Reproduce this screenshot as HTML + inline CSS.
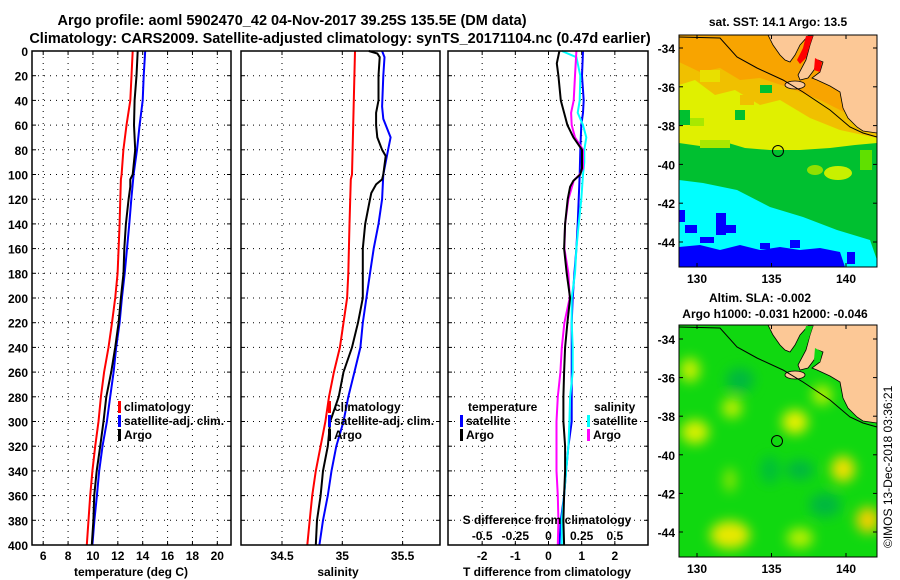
<!DOCTYPE html>
<html><head><meta charset="utf-8"><style>
body{margin:0;background:#fff}
svg{display:block;font-family:"Liberation Sans",sans-serif;font-weight:bold}
</style></head><body>
<svg id="fig" width="900" height="580" viewBox="0 0 900 580" xmlns="http://www.w3.org/2000/svg">
<defs>
<filter id="blur" x="-50%" y="-50%" width="200%" height="200%"><feGaussianBlur stdDeviation="6"/></filter>
<clipPath id="m1clip"><rect x="679" y="35" width="198" height="232"/></clipPath>
<clipPath id="m2clip"><rect x="679" y="325" width="198" height="232"/></clipPath>
</defs>
<text x="292" y="25" font-size="14.5" text-anchor="middle">Argo profile: aoml 5902470_42 04-Nov-2017 39.25S 135.5E (DM data)</text>
<text x="340" y="43" font-size="14.5" text-anchor="middle">Climatology: CARS2009. Satellite-adjusted climatology: synTS_20171104.nc (0.47d earlier)</text>
<g id="panels"></g>

<!-- Map 1: SST -->
<g>
<text x="778" y="26" font-size="12" text-anchor="middle">sat. SST: 14.1 Argo: 13.5</text>
<g clip-path="url(#m1clip)">
<rect x="679" y="35" width="198" height="232" fill="#f8a400"/>
<polygon points="679,62 700,72 720,68 740,80 760,78 790,88 820,100 850,115 877,130 877,267 679,267" fill="#f0c000"/>
<polygon points="679,85 695,80 715,95 735,90 760,105 780,100 810,118 840,130 877,138 877,267 679,267" fill="#e0f000"/>
<rect x="700" y="70" width="20" height="12" fill="#e8e000"/>
<rect x="740" y="95" width="14" height="10" fill="#f0c000"/>
<rect x="760" y="85" width="12" height="8" fill="#00c030"/>
<rect x="735" y="110" width="10" height="10" fill="#00c030"/>
<rect x="690" y="118" width="14" height="8" fill="#a8e800"/>
<polygon points="679,110 690,110 690,125 679,125" fill="#00c030"/>
<polygon points="679,143 700,146 725,142 745,148 770,150 800,150 830,148 855,145 877,143 877,267 679,267" fill="#00c030"/>
<rect x="700" y="140" width="30" height="8" fill="#a8e800"/>
<ellipse cx="838" cy="173" rx="14" ry="7" fill="#c8f000"/>
<ellipse cx="815" cy="170" rx="8" ry="5" fill="#90e000"/>
<rect x="860" y="150" width="12" height="20" fill="#60e000"/>
<polygon points="679,180 703,183 737,190 770,207 803,217 837,230 870,240 877,260 877,267 679,267" fill="#00ffff"/>
<polygon points="679,247 700,245 720,250 740,245 760,250 780,247 800,250 820,248 840,252 845,267 679,267" fill="#0000ff"/>
<rect x="679" y="210" width="6" height="12" fill="#0000ff"/>
<rect x="685" y="225" width="12" height="8" fill="#0000ff"/>
<rect x="716" y="213" width="10" height="22" fill="#0000ff"/>
<rect x="726" y="225" width="10" height="8" fill="#0000ff"/>
<rect x="700" y="237" width="14" height="6" fill="#0000ff"/>
<rect x="760" y="243" width="10" height="6" fill="#0000ff"/>
<rect x="790" y="240" width="10" height="8" fill="#0000ff"/>
<rect x="847" y="252" width="8" height="12" fill="#0000ff"/>
<g id="land1">
<polygon points="768,35 877,35 877,133 863,131 857,127 848,118 843,108 840,92 830,86 817,80 812,78 820,72 823,62 818,60 814,70 808,78 800,80 798,75 806,60 810,45 813,36 808,36 800,45 795,55 790,62 785,60 780,55 773,45" fill="#fcc896" stroke="#000" stroke-width="0.8"/>
<polygon points="806,36 813,36 810,45 806,58 800,64 797,60 803,48" fill="#ff0000"/>
<polygon points="815,58 822,62 820,72 814,70" fill="#ff0000"/>
<ellipse cx="795" cy="85" rx="10" ry="4" fill="#fcc896" stroke="#000" stroke-width="0.8"/>
</g>
<polyline points="679,37 720,38 737,57 757,68 783,80 803,92 830,110 850,127 863,133 877,137" fill="none" stroke="#000" stroke-width="1"/>
</g>
<rect x="679" y="35" width="198" height="232" fill="none" stroke="#000"/>
<circle cx="778" cy="151" r="5.5" fill="none" stroke="#000"/>
</g>

<!-- Map 2: SLA -->
<g>
<text x="760" y="302" font-size="12" text-anchor="middle">Altim. SLA: -0.002</text>
<text x="775" y="318" font-size="12" text-anchor="middle">Argo h1000: -0.031 h2000: -0.046</text>
<g clip-path="url(#m2clip)">
<rect x="679" y="325" width="198" height="232" fill="#10d810"/>
<g filter="url(#blur)">
<ellipse cx="740" cy="380" rx="14" ry="12" fill="#00b840"/>
<ellipse cx="800" cy="470" rx="14" ry="10" fill="#00b840"/>
<ellipse cx="825" cy="505" rx="16" ry="12" fill="#00b840"/>
<ellipse cx="770" cy="470" rx="10" ry="14" fill="#00c038"/>
<ellipse cx="690" cy="370" rx="10" ry="12" fill="#c8f000"/>
<ellipse cx="695" cy="432" rx="14" ry="12" fill="#d8f000"/>
<ellipse cx="732" cy="408" rx="10" ry="10" fill="#c0f000"/>
<ellipse cx="795" cy="422" rx="13" ry="12" fill="#e8f000"/>
<ellipse cx="843" cy="469" rx="12" ry="13" fill="#f0e000"/>
<ellipse cx="868" cy="520" rx="12" ry="13" fill="#f0d000"/>
<ellipse cx="730" cy="535" rx="20" ry="14" fill="#e8e800"/>
<ellipse cx="800" cy="538" rx="13" ry="10" fill="#b8f000"/>
<ellipse cx="822" cy="395" rx="10" ry="10" fill="#b8f000"/>
<ellipse cx="730" cy="480" rx="6" ry="12" fill="#90e800"/>
</g>
<g transform="translate(0,290)">
<polygon points="768,35 877,35 877,133 863,131 857,127 848,118 843,108 840,92 830,86 817,80 812,78 820,72 823,62 818,60 814,70 808,78 800,80 798,75 806,60 810,45 813,36 808,36 800,45 795,55 790,62 785,60 780,55 773,45" fill="#fcc896" stroke="#000" stroke-width="0.8"/>
<polygon points="806,36 813,36 810,45 806,58 800,64 797,60 803,48" fill="#10d810"/>
<polygon points="815,58 822,62 820,72 814,70" fill="#10d810"/>
<ellipse cx="795" cy="85" rx="10" ry="4" fill="#fcc896" stroke="#000" stroke-width="0.8"/>
<polyline points="679,37 720,38 737,57 757,68 783,80 803,92 830,110 850,127 863,133 877,137" fill="none" stroke="#000" stroke-width="1"/>
</g>
</g>
<rect x="679" y="325" width="198" height="232" fill="none" stroke="#000"/>
<circle cx="777" cy="441" r="5.5" fill="none" stroke="#000"/>
</g>
<text transform="translate(892,548) rotate(-90)" font-size="12" font-weight="normal">©IMOS 13-Dec-2018 03:36:21</text>
<g id="mapaxes"></g>
</svg>
<script>
// ---- data ----
const tempDepthsClim = [0,40,60,80,100,104,120,140,160,180,200,220,240,260,280,300,320,340,360,380,400];
const tempClim = [13.2,13.0,12.7,12.45,12.3,12.25,12.2,12.14,12.06,11.98,11.79,11.53,11.25,10.9,10.64,10.45,10.18,9.96,9.78,9.64,9.51];
const tempDepthsArgo = [0,20,40,60,80,100,104,110,120,140,160,180,200,220,240,260,280,300,320,340,360,380,400];
const tempArgo = [13.6,13.5,13.35,13.3,13.4,13.2,13.0,13.0,12.87,12.65,12.52,12.46,12.25,12.06,11.79,11.47,11.07,10.85,10.58,10.3,10.1,10.04,9.91];
const tempDepthsSat = [0,20,40,60,80,100,120,140,160,180,200,220,240,260,280,300,320,340,360,380,400];
const tempSat = [14.2,14.08,14.0,13.75,13.54,13.27,13.08,12.92,12.74,12.55,12.33,12.14,11.87,11.66,11.39,11.12,10.77,10.5,10.32,10.12,9.96];

const salDepthsClim = [0,100,104,140,180,200,220,240,260,280,300,320,340,360,380,400];
const salClim = [35.105,35.08,35.07,35.06,35.05,35.04,35.01,34.98,34.93,34.89,34.86,34.82,34.78,34.75,34.73,34.71];
const salDepthsArgo = [0,2,5,20,40,50,60,70,80,85,100,104,108,115,120,140,160,180,200,210,220,240,260,280,300,320,340,360,380,400];
const salArgo = [35.22,35.29,35.31,35.30,35.30,35.28,35.28,35.29,35.33,35.36,35.34,35.33,35.28,35.24,35.23,35.19,35.17,35.17,35.17,35.15,35.13,35.08,35.01,34.97,34.90,34.88,34.84,34.82,34.79,34.78];
const salDepthsSat = [0,5,20,45,55,70,80,100,120,140,160,180,200,220,240,260,280,300,320,340,360,380,400];
const salSat = [35.33,35.35,35.34,35.33,35.34,35.40,35.38,35.34,35.33,35.30,35.26,35.23,35.20,35.17,35.15,35.10,35.05,35.01,34.95,34.91,34.88,34.84,34.81];

const dTDepthsSat = [0,20,40,50,60,80,100,120,140,160,180,200,220,240,260,280,300,320,340,360,380,400];
const dTSat = [1.04,1.01,1.06,1.04,0.99,0.96,0.94,0.91,0.88,0.84,0.78,0.73,0.70,0.70,0.70,0.70,0.70,0.60,0.53,0.47,0.37,0.33];
const dTDepthsArgo = [0,10,20,40,50,60,70,80,95,100,105,110,120,140,160,180,200,220,240,260,280,300,320,340,360,380,400];
const dTArgo = [0.33,0.25,0.30,0.37,0.47,0.57,0.75,1.01,1.01,0.96,0.75,0.65,0.58,0.50,0.47,0.55,0.65,0.57,0.50,0.47,0.45,0.45,0.50,0.50,0.47,0.45,0.47];
const dSDepthsSat = [0,5,20,40,50,60,70,80,90,100,120,140,160,180,200,220,240,260,280,300,320,340,360,380,400];
const dSSat = [0.10,0.21,0.24,0.235,0.22,0.26,0.285,0.27,0.27,0.26,0.2475,0.2275,0.21,0.20,0.175,0.175,0.1825,0.1825,0.1625,0.1575,0.15,0.1325,0.1175,0.10,0.10];
const dSDepthsArgo = [0,20,40,50,60,70,80,95,100,105,120,140,160,180,200,220,240,260,280,300,320,340,360,380,400];
const dSArgo = [0.21,0.20,0.19,0.17,0.175,0.20,0.26,0.26,0.235,0.19,0.15,0.125,0.12,0.15,0.16,0.12,0.10,0.09,0.07,0.06,0.06,0.06,0.07,0.075,0.07];

const depthTicks = [0,20,40,60,80,100,120,140,160,180,200,220,240,260,280,300,320,340,360,380,400];
const tempTicks = [6,8,10,12,14,16,18,20];
const salTicks = [34.5,35,35.5];
const salTickLabels = ['34.5','35','35.5'];
const dTTicks = [-2,-1,0,1,2];
const dSTicks = [-0.5,-0.25,0,0.25,0.5];
const dSTickLabels = ['-0.5','-0.25','0','0.25','0.5'];
const latTicks = [-34,-36,-38,-40,-42,-44];
const lonTicks = [130,135,140];

// ---- helpers ----
const NS='http://www.w3.org/2000/svg';
const root=document.getElementById('panels');
function mk(tag,attrs,parent){const e=document.createElementNS(NS,tag);for(const k in attrs)e.setAttribute(k,attrs[k]);(parent||root).appendChild(e);return e;}
const Y0=51,Y1=545;
function yD(d){return Y0+d*(Y1-Y0)/400;}
function lin(d0,d1,r0,r1){return v=>r0+(v-d0)*(r1-r0)/(d1-d0);}

const P=[
 {x0:32,x1:231,sx:lin(5.1,21.1,32,231),name:'temperature-panel'},
 {x0:241,x1:440,sx:lin(34.16,35.81,241,440),name:'salinity-panel'},
 {x0:448,x1:648,sx:lin(-3.03,3.0,448,648),name:'difference-panel'}
];
const sxS=v=>P[2].sx(v*4);

function grid(p,xt,fx){
  const g=mk('g',{});
  
  
  depthTicks.forEach(d=>{if(d>0&&d<400){mk('line',{x1:p.x0,x2:p.x1,y1:yD(d),y2:yD(d),stroke:'#000','stroke-width':1,'stroke-dasharray':'1 5'},g);
    mk('line',{x1:p.x0,x2:p.x0+4,y1:yD(d),y2:yD(d),stroke:'#000'},g);mk('line',{x1:p.x1-4,x2:p.x1,y1:yD(d),y2:yD(d),stroke:'#000'},g);}});
  xt.forEach(v=>{const x=fx(v);mk('line',{x1:x,x2:x,y1:Y0,y2:Y1,stroke:'#000','stroke-width':1,'stroke-dasharray':'1 5'},g);
    mk('line',{x1:x,x2:x,y1:Y1-4,y2:Y1,stroke:'#000'},g);mk('line',{x1:x,x2:x,y1:Y0,y2:Y0+4,stroke:'#000'},g);});
}
function frame(p){const r=mk('rect',{x:p.x0,y:Y0,width:p.x1-p.x0,height:Y1-Y0,fill:'none',stroke:'#000','stroke-width':1.5});
  
  }
function series(depths,vals,fx,color,name){
  const pts=depths.map((d,i)=>fx(vals[i]).toFixed(1)+','+yD(d).toFixed(1)).join(' ');
  const l=mk('polyline',{points:pts,fill:'none',stroke:color,'stroke-width':2});
  
  
}
function txt(x,y,s,name,anchor,size){const t=mk('text',{x:x,y:y,'font-size':size||12,'text-anchor':anchor||'start'});t.textContent=s;
  
  return t;}
function legend(x,y,color,label,name){const m=mk('rect',{x:x,y:y-10,width:3,height:12,fill:color});
  
  
  txt(x+6,y,label,name,'start',12);}

// panel 1
grid(P[0],tempTicks,P[0].sx);
series(tempDepthsClim,tempClim,P[0].sx,'#ff0000','temp-climatology-line');
series(tempDepthsSat,tempSat,P[0].sx,'#0000ff','temp-satellite-line');
series(tempDepthsArgo,tempArgo,P[0].sx,'#000000','temp-argo-line');
frame(P[0]);
depthTicks.forEach(d=>txt(28,yD(d)+5,String(d),'depth-tick-'+d,'end',12));
tempTicks.forEach(v=>txt(P[0].sx(v),560,String(v),'temp-tick-'+v,'middle',12));
txt(131,576,'temperature (deg C)','temp-axis-title','middle',12);
legend(118,411,'#ff0000','climatology','temp-legend-climatology');
legend(118,425,'#0000ff','satellite-adj. clim.','temp-legend-satellite');
legend(118,439,'#000000','Argo','temp-legend-argo');

// panel 2
grid(P[1],salTicks,P[1].sx);
series(salDepthsClim,salClim,P[1].sx,'#ff0000','sal-climatology-line');
series(salDepthsSat,salSat,P[1].sx,'#0000ff','sal-satellite-line');
series(salDepthsArgo,salArgo,P[1].sx,'#000000','sal-argo-line');
frame(P[1]);
salTicks.forEach((v,i)=>txt(P[1].sx(v),560,salTickLabels[i],'sal-tick-'+i,'middle',12));
txt(338,576,'salinity','sal-axis-title','middle',12);
legend(328,411,'#ff0000','climatology','sal-legend-climatology');
legend(328,425,'#0000ff','satellite-adj. clim.','sal-legend-satellite');
legend(328,439,'#000000','Argo','sal-legend-argo');

// panel 3
grid(P[2],dTTicks,P[2].sx);
series(dTDepthsSat,dTSat,P[2].sx,'#0000ff','dT-satellite-line');
series(dSDepthsSat,dSSat,sxS,'#00ffff','dS-satellite-line');
series(dSDepthsArgo,dSArgo,sxS,'#ff00ff','dS-argo-line');
series(dTDepthsArgo,dTArgo,P[2].sx,'#000000','dT-argo-line');
frame(P[2]);
dTTicks.forEach(v=>txt(P[2].sx(v),560,String(v),'dT-tick-'+v,'middle',12));
dSTicks.forEach((v,i)=>txt(sxS(v),540,dSTickLabels[i],'dS-tick-'+i,'middle',12));
txt(547,524,'S difference from climatology','dS-axis-title','middle',12);
txt(547,576,'T difference from climatology','dT-axis-title','middle',12);
txt(468,411,'temperature','dT-legend-header','start',12);
legend(460,425,'#0000ff','satellite','dT-legend-satellite');
legend(460,439,'#000000','Argo','dT-legend-argo');
txt(594,411,'salinity','dS-legend-header','start',12);
legend(587,425,'#00ffff','satellite','dS-legend-satellite');
legend(587,439,'#ff00ff','Argo','dS-legend-argo');

// map axes
const ma=document.getElementById('mapaxes');
const lonX=lin(130,140,697,846);
[[35,267,48,242],[325,557,339,532]].forEach((m,mi)=>{
  const latY=lin(-34,-44,m[2],m[3]);
  latTicks.forEach(la=>{const y=latY(la);
    mk('line',{x1:679,x2:683,y1:y,y2:y,stroke:'#000'},ma);mk('line',{x1:873,x2:877,y1:y,y2:y,stroke:'#000'},ma);
    const t=mk('text',{x:675,y:y+5,'font-size':12,'text-anchor':'end'},ma);t.textContent=String(la);
    
    });
  lonTicks.forEach(lo=>{const x=lonX(lo);
    mk('line',{x1:x,x2:x,y1:m[1]-4,y2:m[1],stroke:'#000'},ma);mk('line',{x1:x,x2:x,y1:m[0],y2:m[0]+4,stroke:'#000'},ma);
    const t=mk('text',{x:x,y:m[1]+16,'font-size':12,'text-anchor':'middle'},ma);t.textContent=String(lo);
    
    });
});
</script>
</body></html>
